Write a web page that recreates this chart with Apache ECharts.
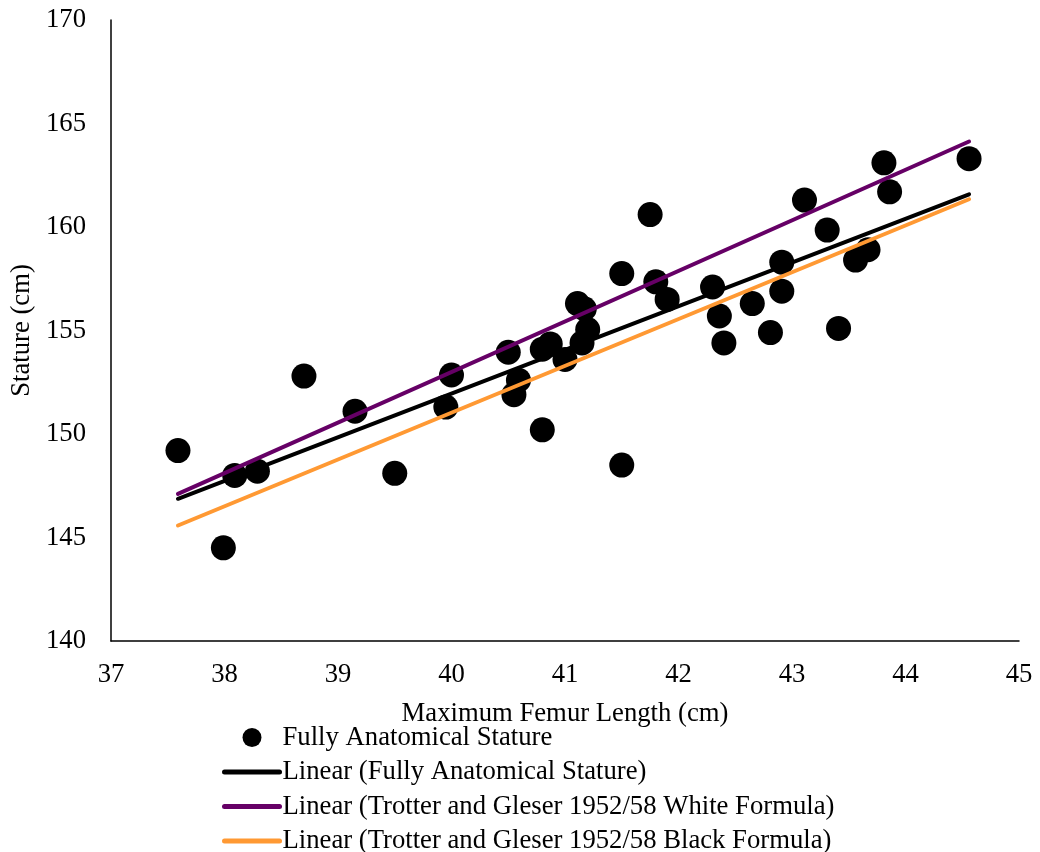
<!DOCTYPE html>
<html>
<head>
<meta charset="utf-8">
<script src="https://cdn.jsdelivr.net/npm/echarts@6/dist/echarts.min.js"></script>
<style>html,body{margin:0;padding:0;background:#fff}#c{width:1040px;height:852px}</style>
</head>
<body>
<div id="c"></div>
<script>
const femurLength = [37.59, 37.99, 38.09, 38.29, 38.70, 39.15, 39.50, 39.95, 40.00, 40.50, 40.59, 40.55, 40.80, 40.80, 40.87, 41.00, 41.11, 41.17, 41.20, 41.15, 41.50, 41.50, 41.75, 41.80, 41.90, 42.30, 42.36, 42.40, 42.65, 42.81, 42.91, 42.91, 43.11, 43.31, 43.41, 43.56, 43.67, 43.81, 43.86, 44.56];
const stature = [149.2, 144.5, 148.0, 148.2, 152.8, 151.1, 148.1, 151.3, 152.85, 153.95, 152.6, 151.9, 150.2, 154.1, 154.35, 153.6, 156.3, 156.05, 155.05, 154.4, 157.75, 148.5, 160.6, 157.35, 156.5, 157.1, 155.7, 154.4, 156.3, 154.9, 158.3, 156.9, 161.3, 159.85, 155.1, 158.4, 158.9, 163.1, 161.7, 163.3];
const trendX = [37.59, 44.56];
const fullyLinear = [146.87, 161.58];
const whiteLinear = [147.11, 164.13];
const blackLinear = [145.58, 161.34];
const xTicks = [37, 38, 39, 40, 41, 42, 43, 44, 45];
const yTicks = [140, 145, 150, 155, 160, 165, 170];
const seriesNames = ['Fully Anatomical Stature', 'Linear (Fully Anatomical Stature)', 'Linear (Trotter and Gleser 1952/58 White Formula)', 'Linear (Trotter and Gleser 1952/58 Black Formula)'];
const seriesColors = ['#000000', '#000000', '#660066', '#FF9933'];

const font = 'Liberation Serif';
const fs = 26.7;
const pairs = (xs, ys) => xs.map((x, i) => [x, ys[i]]);

const chart = echarts.init(document.getElementById('c'), null, {renderer: 'canvas'});
chart.setOption({
  backgroundColor: '#fff',
  animation: false,
  textStyle: {fontFamily: font, color: '#000'},
  grid: {left: 110, right: 21, top: 20, bottom: 211},
  xAxis: {
    type: 'value', min: xTicks[0], max: xTicks[xTicks.length - 1], interval: 1,
    name: 'Maximum Femur Length (cm)', nameLocation: 'middle', nameGap: 59,
    nameTextStyle: {fontFamily: font, fontSize: fs, color: '#000'},
    axisLine: {show: true, lineStyle: {color: '#000', width: 1.5}},
    axisTick: {show: false},
    splitLine: {show: false},
    axisLabel: {fontFamily: font, fontSize: fs, color: '#000', margin: 20}
  },
  yAxis: {
    type: 'value', min: yTicks[0], max: yTicks[yTicks.length - 1], interval: 5,
    name: 'Stature (cm)', nameLocation: 'middle', nameGap: 76, nameRotate: 90,
    nameTextStyle: {fontFamily: font, fontSize: fs, color: '#000'},
    axisLine: {show: true, lineStyle: {color: '#000', width: 1.5}},
    axisTick: {show: false},
    splitLine: {show: false},
    axisLabel: {fontFamily: font, fontSize: fs, color: '#000', margin: 25}
  },
  legend: {
    orient: 'vertical', left: 222, top: 724, height: 160, padding: 0,
    itemWidth: 55, itemHeight: 19, itemGap: 7.5,
    lineStyle: {width: 5},
    textStyle: {fontFamily: font, fontSize: fs, color: '#000', padding: [0, 0, 0, -2]},
    data: [
      {name: seriesNames[0]},
      {name: seriesNames[1], itemStyle: {opacity: 0}, lineStyle: {width: 5, color: seriesColors[1]}},
      {name: seriesNames[2], itemStyle: {opacity: 0}, lineStyle: {width: 5, color: seriesColors[2]}},
      {name: seriesNames[3], itemStyle: {opacity: 0}, lineStyle: {width: 5, color: seriesColors[3]}}
    ]
  },
  series: [
    {
      name: seriesNames[0], type: 'scatter', symbol: 'circle', symbolSize: 25,
      itemStyle: {color: seriesColors[0], opacity: 1}, z: 3,
      data: pairs(femurLength, stature)
    },
    {
      name: seriesNames[1], type: 'line', showSymbol: false, symbol: 'none',
      lineStyle: {color: seriesColors[1], width: 4, cap: 'round'}, itemStyle: {color: seriesColors[1]}, z: 4,
      data: pairs(trendX, fullyLinear)
    },
    {
      name: seriesNames[2], type: 'line', showSymbol: false, symbol: 'none',
      lineStyle: {color: seriesColors[2], width: 4, cap: 'round'}, itemStyle: {color: seriesColors[2]}, z: 4,
      data: pairs(trendX, whiteLinear)
    },
    {
      name: seriesNames[3], type: 'line', showSymbol: false, symbol: 'none',
      lineStyle: {color: seriesColors[3], width: 4, cap: 'round'}, itemStyle: {color: seriesColors[3]}, z: 4,
      data: pairs(trendX, blackLinear)
    }
  ]
});
</script>
</body>
</html>
